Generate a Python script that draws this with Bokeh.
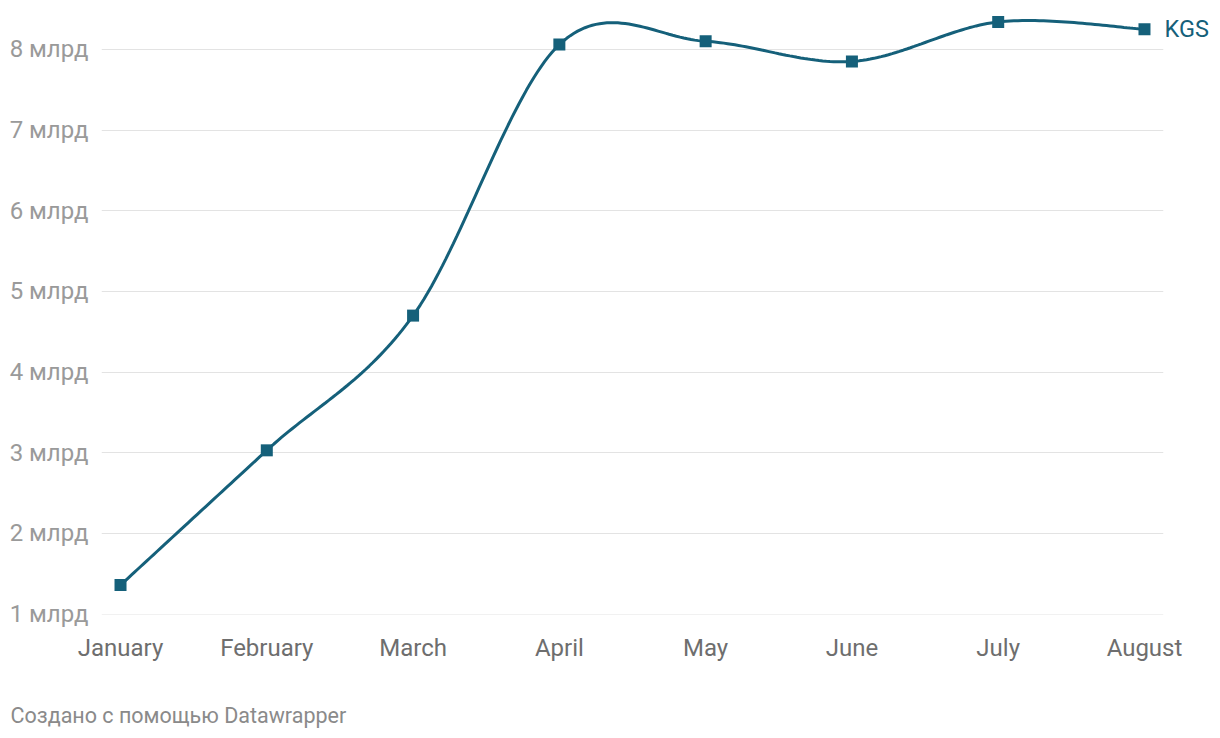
import numpy as np
from bokeh.plotting import figure
from bokeh.models import FixedTicker, LinearAxis, Title
from bokeh.embed import file_html
from bokeh.resources import INLINE

months = ["January", "February", "March", "April", "May", "June", "July", "August"]
kgs_bn = [1.36, 3.03, 4.70, 8.06, 8.10, 7.85, 8.34, 8.25]
y_ticks = [1, 2, 3, 4, 5, 6, 7, 8]
y_tick_labels = ["%d млрд" % t for t in y_ticks]
series_name = "KGS"
footer = "Создано с помощью Datawrapper"

COLOR = "#15607a"
FONT = "Roboto"

xs = np.arange(len(months), dtype=float)
ys = np.array(kgs_bn, dtype=float)

# cardinal (Catmull-Rom, tension 0) smoothing of the drawn path, endpoints duplicated
def smooth(x, y, n=40):
    px = np.concatenate([[x[0]], x, [x[-1]]])
    py = np.concatenate([[y[0]], y, [y[-1]]])
    ox, oy = [], []
    for i in range(1, len(px) - 2):
        x0, x1 = px[i], px[i + 1]
        y0, y1 = py[i], py[i + 1]
        mx0 = (px[i + 1] - px[i - 1]) / 2
        mx1 = (px[i + 2] - px[i]) / 2
        my0 = (py[i + 1] - py[i - 1]) / 2
        my1 = (py[i + 2] - py[i]) / 2
        t = np.linspace(0, 1, n, endpoint=(i == len(px) - 3))
        h00 = 2 * t**3 - 3 * t**2 + 1
        h10 = t**3 - 2 * t**2 + t
        h01 = -2 * t**3 + 3 * t**2
        h11 = t**3 - t**2
        ox.append(h00 * x0 + h10 * mx0 + h01 * x1 + h11 * mx1)
        oy.append(h00 * y0 + h10 * my0 + h01 * y1 + h11 * my1)
    return np.concatenate(ox), np.concatenate(oy)

cx, cy = smooth(xs, ys)

p = figure(width=1220, height=738, output_backend="svg", toolbar_location=None,
           x_range=(-0.13, 7.13), y_range=(0.995, 8.42),
           min_border_left=101, min_border_right=57, min_border_top=15,
           min_border_bottom=124)
p.outline_line_color = None
p.background_fill_color = "white"
p.border_fill_color = "white"

p.line(cx, cy, line_color=COLOR, line_width=3)
p.scatter(xs, ys, marker="square", size=12, fill_color=COLOR, line_color=None)

# axes
p.xaxis.ticker = FixedTicker(ticks=list(xs))
p.xaxis.major_label_overrides = {i: m for i, m in enumerate(months)}
p.yaxis.ticker = FixedTicker(ticks=y_ticks)
p.yaxis.major_label_overrides = {t: l for t, l in zip(y_ticks, y_tick_labels)}
for ax in (p.xaxis, p.yaxis):
    ax.axis_line_color = None
    ax.major_tick_line_color = None
    ax.minor_tick_line_color = None
    ax.major_label_text_font = FONT
    ax.major_label_text_font_size = "24px"
p.xaxis.major_label_text_color = "#6e6e6e"
p.yaxis.major_label_text_color = "#9a9a9a"
p.xaxis.major_label_standoff = 13
p.yaxis.major_label_standoff = 7
# blank axis label used only as vertical spacing before the footer
p.xaxis.axis_label = " "
p.xaxis.axis_label_standoff = 8
p.xaxis.axis_label_text_font_size = "22px"

# series label at the end of the line, as a right axis tick label
end_axis = LinearAxis(ticker=FixedTicker(ticks=[float(ys[-1])]),
                      major_label_overrides={float(ys[-1]): series_name})
end_axis.axis_line_color = None
end_axis.major_tick_line_color = None
end_axis.minor_tick_line_color = None
end_axis.major_label_text_font = FONT
end_axis.major_label_text_font_size = "23.5px"
end_axis.major_label_text_color = COLOR
end_axis.major_label_standoff = -5
p.add_layout(end_axis, "right")

p.xgrid.grid_line_color = None
p.ygrid.grid_line_color = "#e3e3e3"
p.ygrid.grid_line_width = 1

p.add_layout(Title(text=footer, align="left", offset=-91, standoff=0,
                   text_font=FONT, text_font_size="21.5px", text_color="#8a8a8a",
                   text_font_style="normal"), "below")

open("out.html", "w").write(file_html(p, INLINE))
